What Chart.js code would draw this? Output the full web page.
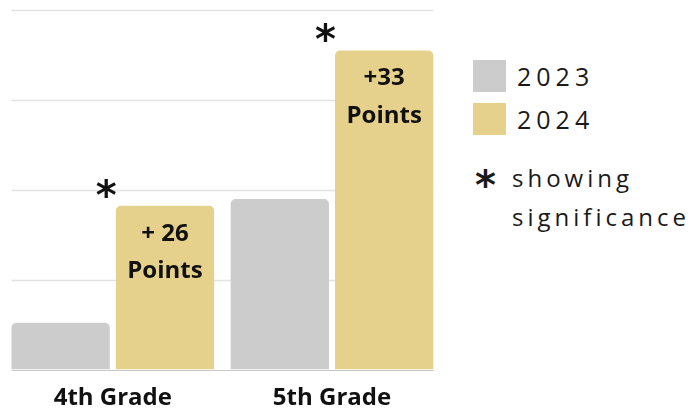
<!DOCTYPE html>
<html>
<head>
<meta charset="utf-8">
<script src="https://cdn.jsdelivr.net/npm/chart.js@4.4.1/dist/chart.umd.min.js"></script>
<style>
  html, body { margin: 0; padding: 0; background: #fff; }
  body { width: 694px; height: 411px; position: relative; overflow: hidden; font-family: "Open Sans", sans-serif; }
  #chart-box { position: absolute; left: 0; top: 0; width: 446px; height: 411px; }
  #legend { position: absolute; left: 473px; top: 0; color: #1a1a1a; }
  .leg-item { position: absolute; left: 0; width: 230px; height: 33px; }
  .leg-swatch { position: absolute; left: 0; top: 0; width: 33px; height: 32px; }
  .leg-text { position: absolute; left: 44px; top: 0; line-height: 32px; font-size: 25px; letter-spacing: 5px; }
  .leg-note { position: absolute; left: 0; font-size: 24px; letter-spacing: 4px; line-height: 39px; }
  .leg-note .star { position: absolute; left: 2px; top: 8px; font-family: "DejaVu Sans", sans-serif; font-weight: bold; font-size: 40px; letter-spacing: 0; line-height: 39px; }
  .leg-note .txt { position: absolute; left: 39px; top: 0; white-space: nowrap; }
</style>
</head>
<body>
<div id="chart-box"><canvas id="myChart"></canvas></div>
<div id="legend"></div>
<script>
const categories = ['4th Grade', '5th Grade'];
const seriesNames = ['2023', '2024'];
const values2023 = [10.4, 37.9];
const values2024 = [36.4, 70.9];
const changeLabels = ['+ 26', '+33'];
const significant = [true, true];
const yTicks = [0, 20, 40, 60, 80];

const COLORS = ['#cccccc', '#e6d18c'];

// grid lines that only span the bars, plus the base line
const gridPlugin = {
    id: 'gridLines',
    beforeDatasetsDraw(chart) {
        const ctx = chart.ctx;
        const yScale = chart.scales.y;
        const first = chart.getDatasetMeta(0).data[0];
        const lastMeta = chart.getDatasetMeta(chart.data.datasets.length - 1);
        const last = lastMeta.data[lastMeta.data.length - 1];
        const left = first.x - first.width / 2;
        const right = last.x + last.width / 2;
        ctx.save();
        yTicks.forEach(v => {
            const y = Math.round(yScale.getPixelForValue(v)) + 0.5;
            ctx.strokeStyle = v === 0 ? '#c8c8c8' : '#e3e3e3';
            ctx.lineWidth = v === 0 ? 1 : 1.5;
            ctx.beginPath();
            ctx.moveTo(left, y);
            ctx.lineTo(right, y);
            ctx.stroke();
        });
        ctx.restore();
    }
};

// "+ 26 Points" inside the 2024 bars and the significance star
const barTextPlugin = {
    id: 'barText',
    afterDatasetsDraw(chart) {
        const ctx = chart.ctx;
        const meta = chart.getDatasetMeta(1);
        ctx.save();
        ctx.textAlign = 'center';
        ctx.textBaseline = 'alphabetic';
        ctx.fillStyle = '#111';
        meta.data.forEach((bar, i) => {
            ctx.font = 'bold 24px "Open Sans", sans-serif';
            ctx.fillText(changeLabels[i], bar.x, bar.y + 35);
            ctx.fillText('Points', bar.x, bar.y + 72.5);
            if (significant[i]) {
                ctx.font = 'bold 40px "DejaVu Sans", sans-serif';
                const m = ctx.measureText('*');
                const cy = bar.y - 18;
                const base = cy + (m.actualBoundingBoxAscent - m.actualBoundingBoxDescent) / 2;
                ctx.fillText('*', bar.x - bar.width / 2 - 9.5, base);
            }
        });
        ctx.restore();
    }
};

function initChart() {
    const ctx = document.getElementById('myChart').getContext('2d');
    return new Chart(ctx, {
        type: 'bar',
        data: {
            labels: categories,
            datasets: [{
                label: seriesNames[0],
                data: values2023,
                backgroundColor: COLORS[0],
                borderRadius: { topLeft: 5, topRight: 5 },
                borderSkipped: 'start'
            }, {
                label: seriesNames[1],
                data: values2024,
                backgroundColor: COLORS[1],
                borderRadius: { topLeft: 5, topRight: 5 },
                borderSkipped: 'start'
            }]
        },
        options: {
            responsive: true,
            maintainAspectRatio: false,
            animation: false,
            categoryPercentage: 0.952,
            barPercentage: 0.942,
            layout: { padding: { left: 3.2, right: 4.4, top: 9.5, bottom: 0 } },
            scales: {
                x: {
                    grid: { display: false, drawTicks: false },
                    border: { display: false },
                    afterFit: function(scale) { scale.height = 41.5; },
                    ticks: {
                        color: '#111',
                        padding: 14,
                        maxRotation: 0,
                        font: { family: '"Open Sans", sans-serif', size: 24, weight: 'bold' }
                    }
                },
                y: {
                    display: false,
                    min: 0,
                    max: 80,
                    ticks: { stepSize: 20 }
                }
            },
            plugins: {
                legend: { display: false },
                tooltip: { enabled: false }
            }
        },
        plugins: [gridPlugin, barTextPlugin]
    });
}

function buildLegend(chart) {
    const legend = document.getElementById('legend');
    legend.innerHTML = '';
    chart.data.datasets.forEach((ds, i) => {
        const item = document.createElement('div');
        item.className = 'leg-item';
        item.style.top = (60 + i * 42.5) + 'px';
        const sw = document.createElement('div');
        sw.className = 'leg-swatch';
        sw.style.background = ds.backgroundColor;
        const tx = document.createElement('div');
        tx.className = 'leg-text';
        tx.textContent = ds.label;
        item.appendChild(sw);
        item.appendChild(tx);
        legend.appendChild(item);
    });
    const note = document.createElement('div');
    note.className = 'leg-note';
    note.style.top = '158px';
    note.innerHTML = '<span class="star">*</span><span class="txt">showing<br>significance</span>';
    legend.appendChild(note);
}

document.addEventListener('DOMContentLoaded', function() {
    const chart = initChart();
    buildLegend(chart);
});
</script>
</body>
</html>
